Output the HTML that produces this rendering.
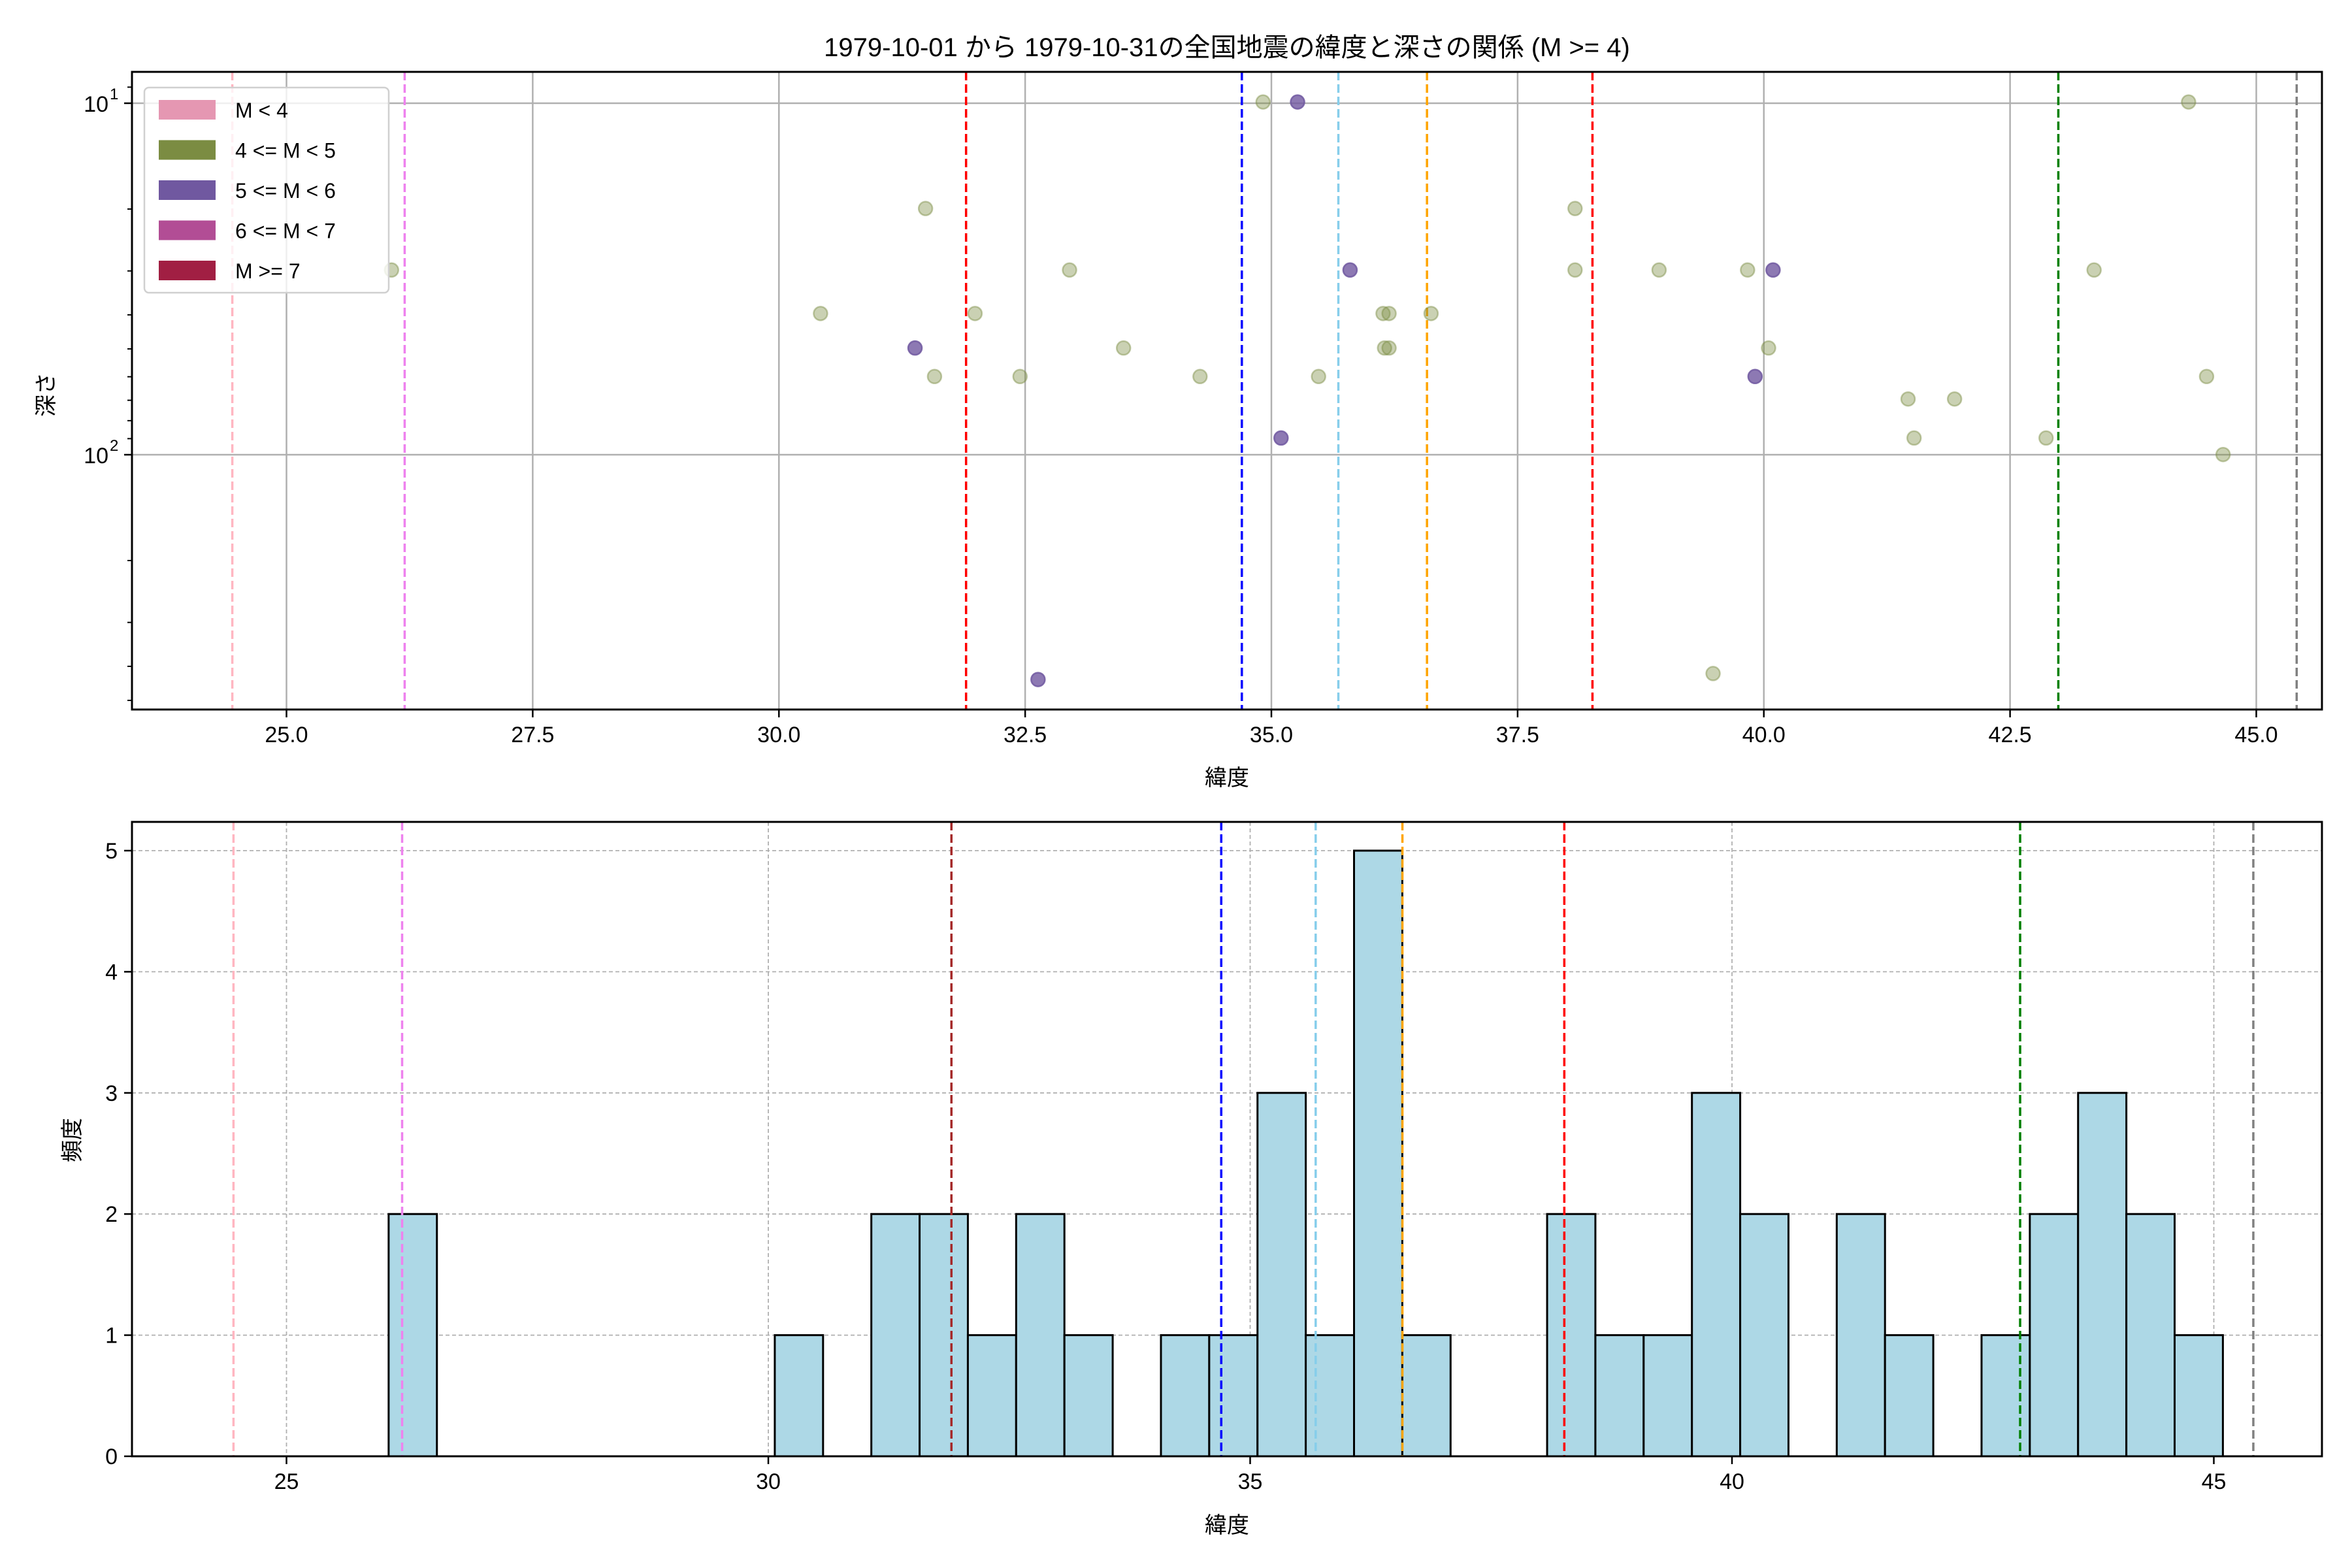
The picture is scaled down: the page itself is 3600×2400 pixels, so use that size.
<!DOCTYPE html>
<html><head><meta charset="utf-8">
<style>
html,body{margin:0;padding:0;background:#fff;}
svg{display:block;}
text{font-family:"Liberation Sans","Noto Sans CJK JP",sans-serif;fill:#000;}
</style></head>
<body>
<svg id="s" width="3600" height="2400" viewBox="0 0 3600 2400" xmlns="http://www.w3.org/2000/svg">
<rect width="3600" height="2400" fill="#fff"/>
<defs>
<clipPath id="c1"><rect x="202" y="110" width="3352" height="976"/></clipPath>
<clipPath id="c2"><rect x="202" y="1258" width="3352" height="971"/></clipPath>
</defs>
<text x="1878" y="86" font-size="40" text-anchor="middle">1979-10-01 から 1979-10-31の全国地震の緯度と深さの関係 (M &gt;= 4)</text>
<g id="gtop"></g>
<g id="gbot"></g>
</svg>
<script>
(function(){
var NS="http://www.w3.org/2000/svg";
function el(p,t,a,txt){var e=document.createElementNS(NS,t);for(var k in a)e.setAttribute(k,a[k]);if(txt!==undefined)e.textContent=txt;p.appendChild(e);return e;}
var tp=document.getElementById('gtop'),bt=document.getElementById('gbot');
var L=202,R=3554,T1=110,B1=1086,T2=1258,B2=2229;
var FS=34;
function X(v){return 438.5+(v-25)*150.75;}
function Y(d){return 696+(Math.log(d)/Math.LN10-2)*538;}
function XB(v){return 438.5+(v-25)*147.5;}
function YB(c){return 2229-c*185.4;}
var g1=el(tp,'g',{'clip-path':'url(#c1)'});
var v;
for(v=25;v<=45.01;v+=2.5){el(g1,'line',{x1:X(v),x2:X(v),y1:T1,y2:B1,stroke:'#b0b0b0','stroke-width':2.5});}
[10,100].forEach(function(d){el(g1,'line',{x1:L,x2:R,y1:Y(d),y2:Y(d),stroke:'#b0b0b0','stroke-width':2.5});});
var vl=[[24.45,'#ffb6c1','#ffb6c1'],[26.2,'#ee82ee','#ee82ee'],[31.9,'red','#a52a2a'],[34.7,'blue','blue'],[35.68,'#87ceeb','#87ceeb'],[36.58,'orange','orange'],[38.26,'red','red'],[42.99,'green','green'],[45.41,'gray','gray']];
vl.forEach(function(l){el(g1,'line',{x1:X(l[0]),x2:X(l[0]),y1:T1,y2:B1,stroke:l[1],'stroke-width':3.5,'stroke-dasharray':'13,6'});});
var gp=[[261,180],[547,209],[617,139],[623,251],[650,209],[680,251],[713,180],[749,232],[800,251],[842,68],[879,251],[922,209],[923,232],[926,209],[926,232],[954,209],[1050,139],[1050,180],[1106,180],[1165,180],[1179,232],[1272,266],[1276,292],[1303,266],[1142,449],[1364,292],[1396,180],[1459,68],[1471,251],[1482,303]];
var pp=[[610,232],[692,453],[854,292],[865,68],[900,180],[1170,251],[1182,180]];
var f=2.296;
gp.forEach(function(p){el(g1,'circle',{cx:p[0]*f,cy:p[1]*f,r:10.5,fill:'rgba(123,140,66,0.4)',stroke:'rgba(123,140,66,0.45)','stroke-width':2.5});});
pp.forEach(function(p){el(g1,'circle',{cx:p[0]*f,cy:p[1]*f,r:10.5,fill:'rgba(112,88,160,0.8)',stroke:'rgba(112,88,160,0.85)','stroke-width':2.5});});
el(tp,'rect',{x:L,y:T1,width:R-L,height:B1-T1,fill:'none',stroke:'#000','stroke-width':3});
for(v=25;v<=45.01;v+=2.5){el(tp,'line',{x1:X(v),x2:X(v),y1:B1,y2:B1+12,stroke:'#000','stroke-width':2.5});el(tp,'text',{x:X(v),y:B1+50,'font-size':FS,'text-anchor':'middle'},v.toFixed(1));}
[10,100].forEach(function(d){el(tp,'line',{x1:L-12,x2:L,y1:Y(d),y2:Y(d),stroke:'#000','stroke-width':2.5});});
[9,20,30,40,50,60,70,80,90,200,300,400,500].forEach(function(d){var y=Y(d);if(y>T1&&y<B1)el(tp,'line',{x1:L-7,x2:L,y1:y,y2:y,stroke:'#000','stroke-width':2});});
el(tp,'text',{x:166,y:Y(10)+13,'font-size':FS,'text-anchor':'end'},'10');el(tp,'text',{x:168,y:Y(10)-6,'font-size':24},'1');
el(tp,'text',{x:166,y:Y(100)+13,'font-size':FS,'text-anchor':'end'},'10');el(tp,'text',{x:168,y:Y(100)-6,'font-size':24},'2');
el(tp,'text',{x:1878,y:1202,'font-size':FS,'text-anchor':'middle'},'緯度');
el(tp,'text',{x:82,y:604,'font-size':FS,'text-anchor':'middle',transform:'rotate(-90 82 604)'},'深さ');
el(tp,'rect',{x:221,y:134,width:374,height:314,rx:7,fill:'rgba(255,255,255,0.8)',stroke:'#d0d0d0','stroke-width':2.5});
var lg=[['#e597b2','M < 4'],['#7b8c42','4 <= M < 5'],['#7058a0','5 <= M < 6'],['#b24d95','6 <= M < 7'],['#a11f43','M >= 7']];
lg.forEach(function(l,i){var y=168+i*61.5;el(tp,'rect',{x:243,y:y-15,width:87,height:30,fill:l[0]});el(tp,'text',{x:360,y:y+12,'font-size':32},l[1]);});
var g2=el(bt,'g',{'clip-path':'url(#c2)'});
[25,30,35,40,45].forEach(function(v){el(g2,'line',{x1:XB(v),x2:XB(v),y1:T2,y2:B2,stroke:'#b0b0b0','stroke-width':1.8,'stroke-dasharray':'6,4'});});
[0,1,2,3,4,5].forEach(function(c){el(g2,'line',{x1:L,x2:R,y1:YB(c),y2:YB(c),stroke:'#b0b0b0','stroke-width':1.8,'stroke-dasharray':'6,4'});});
var bars=[[0,2],[8,1],[10,2],[11,2],[12,1],[13,2],[14,1],[16,1],[17,1],[18,3],[19,1],[20,5],[21,1],[24,2],[25,1],[26,1],[27,3],[28,2],[30,2],[31,1],[33,1],[34,2],[35,3],[36,2],[37,1]];
var s0=26.06,w=0.5009;
bars.forEach(function(b){var x0=XB(s0+b[0]*w),x1=XB(s0+(b[0]+1)*w);el(g2,'rect',{x:x0,y:YB(b[1]),width:x1-x0,height:YB(0)-YB(b[1]),fill:'#add8e6',stroke:'#000','stroke-width':3});});
el(g2,'line',{x1:L,x2:R,y1:B2,y2:B2,stroke:'#000','stroke-width':3});
vl.forEach(function(l){el(g2,'line',{x1:XB(l[0]),x2:XB(l[0]),y1:T2,y2:B2,stroke:l[2],'stroke-width':3.5,'stroke-dasharray':'13,6'});});
el(bt,'rect',{x:L,y:T2,width:R-L,height:B2-T2,fill:'none',stroke:'#000','stroke-width':3});
[25,30,35,40,45].forEach(function(v){el(bt,'line',{x1:XB(v),x2:XB(v),y1:B2,y2:B2+12,stroke:'#000','stroke-width':2.5});el(bt,'text',{x:XB(v),y:B2+50,'font-size':FS,'text-anchor':'middle'},String(v));});
[0,1,2,3,4,5].forEach(function(c){el(bt,'line',{x1:L-12,x2:L,y1:YB(c),y2:YB(c),stroke:'#000','stroke-width':2.5});el(bt,'text',{x:L-22,y:YB(c)+12,'font-size':FS,'text-anchor':'end'},String(c));});
el(bt,'text',{x:1878,y:2346,'font-size':FS,'text-anchor':'middle'},'緯度');
el(bt,'text',{x:122,y:1745,'font-size':FS,'text-anchor':'middle',transform:'rotate(-90 122 1745)'},'頻度');
})();
</script>
</body></html>
